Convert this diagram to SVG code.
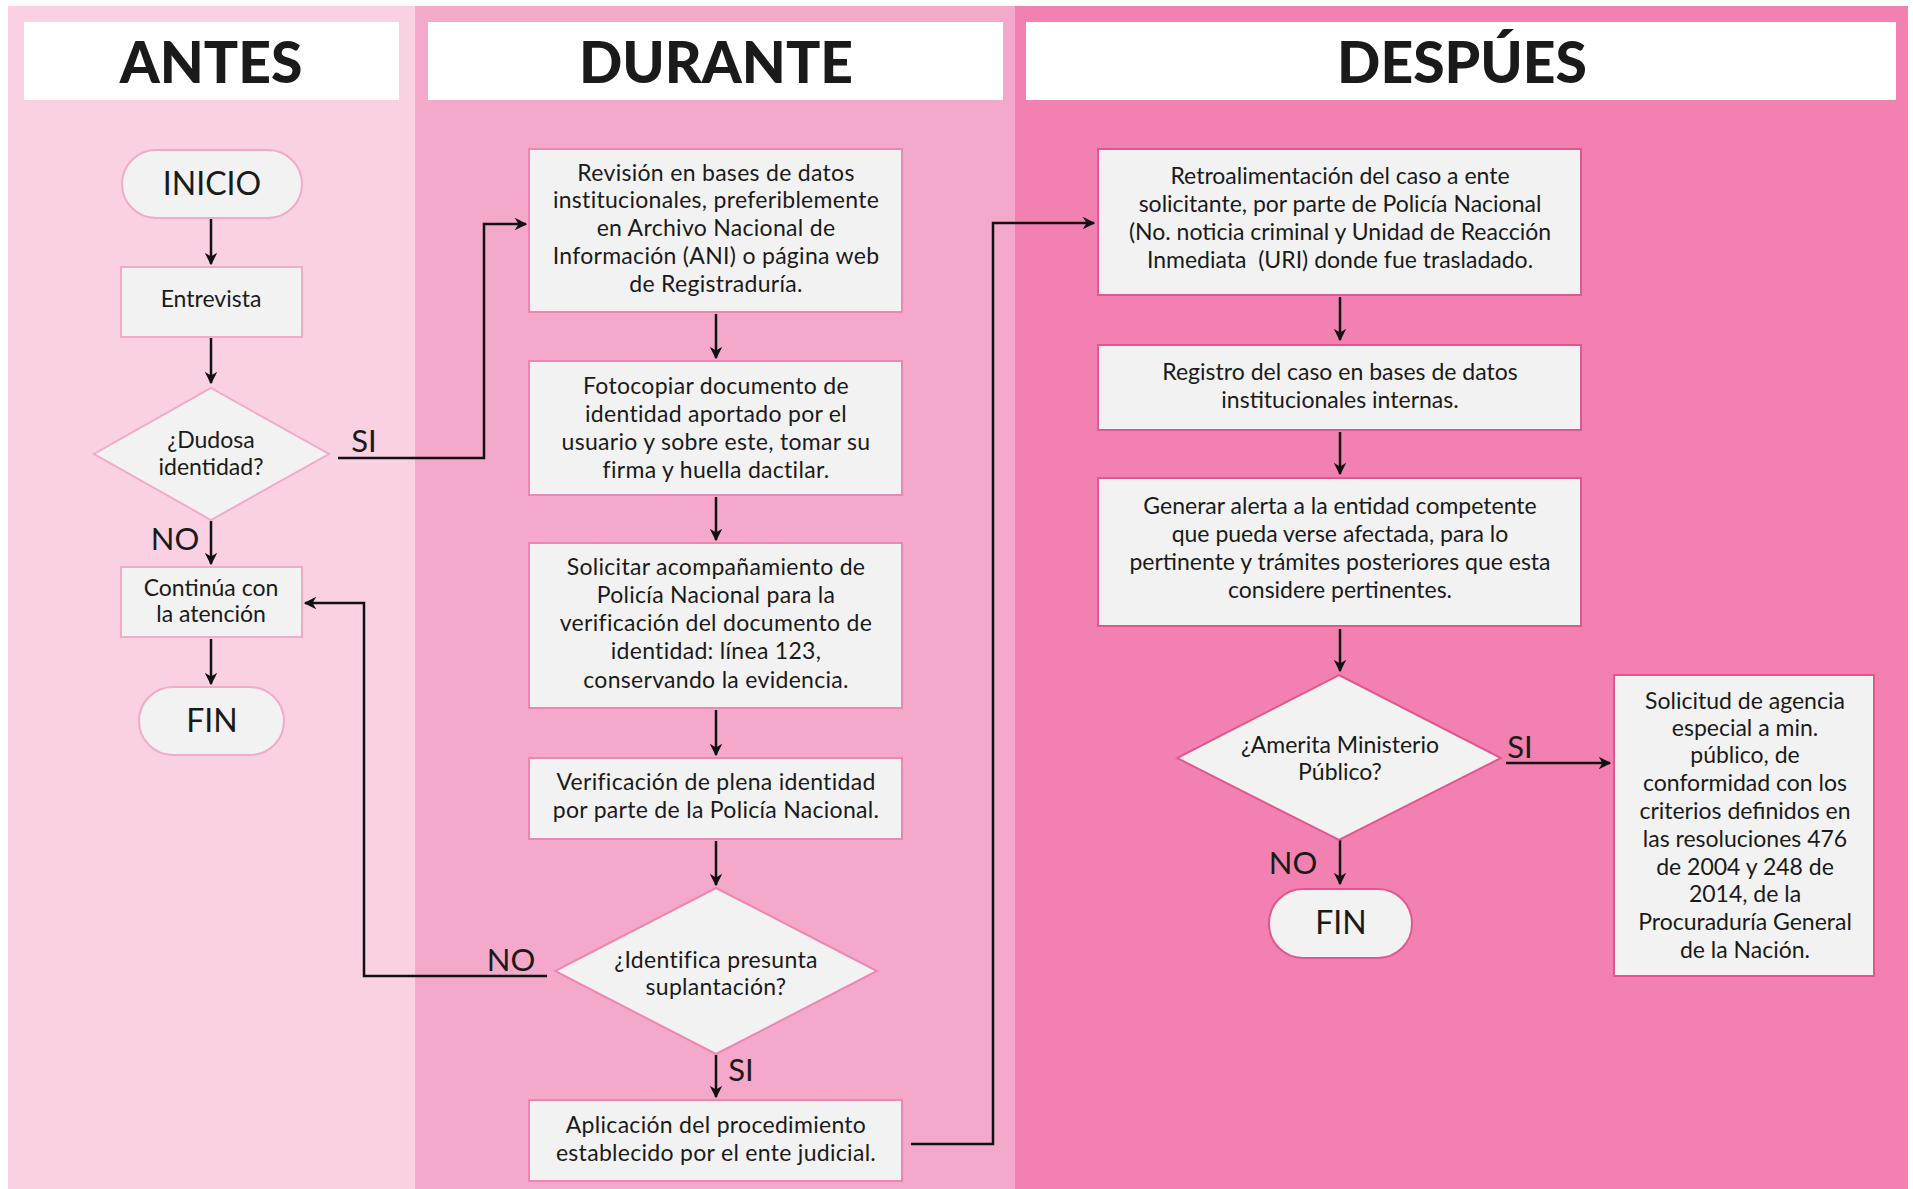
<svg xmlns="http://www.w3.org/2000/svg" width="1913" height="1189" viewBox="0 0 1913 1189">
<defs>
<style>
text{font-family:Lato,"Liberation Sans",sans-serif;fill:#1a1a1a;text-anchor:middle}
.h{font-size:57px;font-weight:900}
.t{font-size:23px}
.d .t{letter-spacing:0.3px}
.big{font-size:32px}
.lab{font-size:31px}
.box{fill:#f2f2f2;stroke-width:2}
.a .box{stroke:#f2aac8}
.d .box{stroke:#ee86b4}
.p .box{stroke:#e2578f}
.hdr{fill:#ffffff}
.c{fill:none;stroke:#111;stroke-width:2.5}
</style>
<marker id="ar" viewBox="0 0 10 10" refX="9" refY="5" markerWidth="5" markerHeight="5" orient="auto" markerUnits="strokeWidth">
<path d="M0,0 L10,5 L0,10 L3,5 z" fill="#111"/>
</marker>
</defs>
<rect x="0" y="0" width="1913" height="1189" fill="#ffffff"/>
<rect x="8" y="6" width="407" height="1183" fill="#f9d1e3"/>
<rect x="415" y="6" width="600" height="1183" fill="#f4a9ca"/>
<rect x="1015" y="6" width="893" height="1183" fill="#f281b1"/>

<g id="headers">
<g id="h-antes"><rect class="hdr" x="24" y="22" width="375" height="78"/><text class="h" x="211" y="83">ANTES</text></g>
<g id="h-durante"><rect class="hdr" x="428" y="22" width="575" height="78"/><text class="h" x="716" y="83">DURANTE</text></g>
<g id="h-despues"><rect class="hdr" x="1026" y="22" width="870" height="78"/><text class="h" x="1462" y="83">DESPÚES</text></g>
</g>

<g id="connectors">
<line class="c" x1="211" y1="218" x2="211" y2="264" marker-end="url(#ar)"/>
<line class="c" x1="211" y1="338" x2="211" y2="383" marker-end="url(#ar)"/>
<line class="c" x1="211" y1="521" x2="211" y2="564" marker-end="url(#ar)"/>
<line class="c" x1="211" y1="639" x2="211" y2="684" marker-end="url(#ar)"/>
<polyline class="c" points="338,458 484,458 484,224 526,224" marker-end="url(#ar)"/>
<line class="c" x1="716" y1="314" x2="716" y2="358" marker-end="url(#ar)"/>
<line class="c" x1="716" y1="497" x2="716" y2="540" marker-end="url(#ar)"/>
<line class="c" x1="716" y1="710" x2="716" y2="755" marker-end="url(#ar)"/>
<line class="c" x1="716" y1="841" x2="716" y2="885" marker-end="url(#ar)"/>
<line class="c" x1="716" y1="1055" x2="716" y2="1097" marker-end="url(#ar)"/>
<polyline class="c" points="547,976 364,976 364,603 305,603" marker-end="url(#ar)"/>
<polyline class="c" points="911,1144 993,1144 993,223 1094,223" marker-end="url(#ar)"/>
<line class="c" x1="1340" y1="297" x2="1340" y2="340" marker-end="url(#ar)"/>
<line class="c" x1="1340" y1="432" x2="1340" y2="474" marker-end="url(#ar)"/>
<line class="c" x1="1340" y1="629" x2="1340" y2="671" marker-end="url(#ar)"/>
<line class="c" x1="1506" y1="763" x2="1610" y2="763" marker-end="url(#ar)"/>
<line class="c" x1="1340" y1="840" x2="1340" y2="884" marker-end="url(#ar)"/>
<text class="lab" x="364" y="452">SI</text>
<text class="lab" x="175" y="550">NO</text>
<text class="lab" x="511" y="971">NO</text>
<text class="lab" x="741" y="1081">SI</text>
<text class="lab" x="1520" y="758">SI</text>
<text class="lab" x="1293" y="874">NO</text>
</g>

<g class="a">
<g id="inicio"><rect class="box" x="122" y="150" width="180" height="68" rx="34"/><text class="big" x="212" y="195">INICIO</text></g>
<g id="entrevista"><rect class="box" x="121" y="267" width="181" height="70"/><text class="t" x="211" y="307">Entrevista</text></g>
<g id="dudosa"><polygon class="box" points="211,388 329,454 211,520 94,454"/><text class="t" x="211" y="448">¿Dudosa</text><text class="t" x="211" y="475">identidad?</text></g>
<g id="continua"><rect class="box" x="121" y="567" width="181" height="70"/><text class="t" x="211" y="596">Continúa con</text><text class="t" x="211" y="622">la atención</text></g>
<g id="fin1"><rect class="box" x="139" y="687" width="145" height="68" rx="34"/><text class="big" x="212" y="732">FIN</text></g>
</g>

<g class="d">
<g id="revision"><rect class="box" x="529" y="149" width="373" height="163"/>
<text class="t" x="716" y="181">Revisión en bases de datos</text>
<text class="t" x="716" y="208">institucionales, preferiblemente</text>
<text class="t" x="716" y="236">en Archivo Nacional de</text>
<text class="t" x="716" y="264">Información (ANI) o página web</text>
<text class="t" x="716" y="292">de Registraduría.</text></g>
<g id="fotocopiar"><rect class="box" x="529" y="361" width="373" height="134"/>
<text class="t" x="716" y="394">Fotocopiar documento de</text>
<text class="t" x="716" y="422">identidad aportado por el</text>
<text class="t" x="716" y="450">usuario y sobre este, tomar su</text>
<text class="t" x="716" y="478">firma y huella dactilar.</text></g>
<g id="solicitar"><rect class="box" x="529" y="543" width="373" height="165"/>
<text class="t" x="716" y="575">Solicitar acompañamiento de</text>
<text class="t" x="716" y="603">Policía Nacional para la</text>
<text class="t" x="716" y="631">verificación del documento de</text>
<text class="t" x="716" y="659">identidad: línea 123,</text>
<text class="t" x="716" y="688">conservando la evidencia.</text></g>
<g id="verificacion"><rect class="box" x="529" y="758" width="373" height="81"/>
<text class="t" x="716" y="790">Verificación de plena identidad</text>
<text class="t" x="716" y="818">por parte de la Policía Nacional.</text></g>
<g id="identifica"><polygon class="box" points="716,888 877,971 716,1054 555,971"/>
<text class="t" x="716" y="968">¿Identifica presunta</text>
<text class="t" x="716" y="995">suplantación?</text></g>
<g id="aplicacion"><rect class="box" x="529" y="1100" width="373" height="81"/>
<text class="t" x="716" y="1133">Aplicación del procedimiento</text>
<text class="t" x="716" y="1161">establecido por el ente judicial.</text></g>
</g>

<g class="p">
<g id="retro"><rect class="box" x="1098" y="149" width="483" height="146"/>
<text class="t" x="1340" y="184">Retroalimentación del caso a ente</text>
<text class="t" x="1340" y="212">solicitante, por parte de Policía Nacional</text>
<text class="t" x="1340" y="240">(No. noticia criminal y Unidad de Reacción</text>
<text class="t" x="1340" y="268" xml:space="preserve">Inmediata  (URI) donde fue trasladado.</text></g>
<g id="registro"><rect class="box" x="1098" y="345" width="483" height="85"/>
<text class="t" x="1340" y="380">Registro del caso en bases de datos</text>
<text class="t" x="1340" y="408">institucionales internas.</text></g>
<g id="generar"><rect class="box" x="1098" y="478" width="483" height="148"/>
<text class="t" x="1340" y="514">Generar alerta a la entidad competente</text>
<text class="t" x="1340" y="542">que pueda verse afectada, para lo</text>
<text class="t" x="1340" y="570">pertinente y trámites posteriores que esta</text>
<text class="t" x="1340" y="598">considere pertinentes.</text></g>
<g id="amerita"><polygon class="box" points="1339,675 1501,758 1339,840 1177,758"/>
<text class="t" x="1340" y="753">¿Amerita Ministerio</text>
<text class="t" x="1340" y="780">Público?</text></g>
<g id="fin2"><rect class="box" x="1269" y="889" width="143" height="69" rx="34"/><text class="big" x="1341" y="934">FIN</text></g>
<g id="solicitud"><rect class="box" x="1614" y="675" width="260" height="301"/>
<text class="t" x="1745" y="709">Solicitud de agencia</text>
<text class="t" x="1745" y="736">especial a min.</text>
<text class="t" x="1745" y="763">público, de</text>
<text class="t" x="1745" y="791">conformidad con los</text>
<text class="t" x="1745" y="819">criterios definidos en</text>
<text class="t" x="1745" y="847">las resoluciones 476</text>
<text class="t" x="1745" y="875">de 2004 y 248 de</text>
<text class="t" x="1745" y="902">2014, de la</text>
<text class="t" x="1745" y="930">Procuraduría General</text>
<text class="t" x="1745" y="958">de la Nación.</text></g>
</g>
</svg>
